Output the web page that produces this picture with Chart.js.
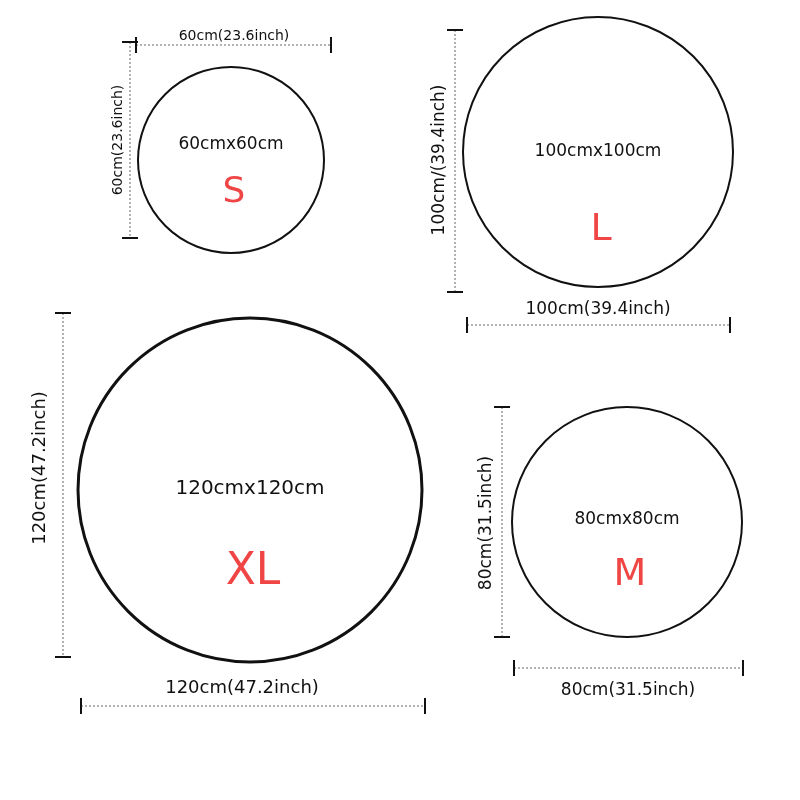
<!DOCTYPE html>
<html>
<head>
<meta charset="utf-8">
<script src="https://cdn.jsdelivr.net/npm/chart.js@4"></script>
<style>
  html, body { margin: 0; padding: 0; background: #fff; }
  #wrap { width: 800px; height: 800px; }
</style>
</head>
<body>
<div id="wrap"><canvas id="c" width="800" height="800"></canvas></div>
<script>
// circles (units = pixels of the 800x800 picture)
const sizeNames = ["S", "L", "XL", "M"];
const centerX = [231, 598, 250, 627];
const centerY = [160, 152, 490, 522];
const radii = [93, 135, 172, 115];
const circleWidths = [2, 2, 3, 2];

// inner labels
const areaLabels = ["60cmx60cm", "100cmx100cm", "120cmx120cm", "80cmx80cm"];
const areaLabelY = [145, 152, 489, 520];
const letterY = [193, 230, 573, 575];
const letterSize = [36, 38, 44, 38];

// dimension lines: [x1, y1, x2, y2]
const dimLines = [
  [136, 45, 331, 45],
  [130, 42, 130, 238],
  [455, 30, 455, 292],
  [467, 325, 730, 325],
  [63, 313, 63, 657],
  [81, 706, 425, 706],
  [502, 407, 502, 637],
  [514, 668, 743, 668],
];
const dimTexts = ["60cm(23.6inch)", "60cm(23.6inch)", "100cm/(39.4inch)", "100cm(39.4inch)",
  "120cm(47.2inch)", "120cm(47.2inch)", "80cm(31.5inch)", "80cm(31.5inch)"];
const dimTextX = [234, 118, 440, 598, 40, 242, 487, 628];
const dimTextY = [36, 140, 160, 310, 468, 688, 523, 691];
const dimTextSize = [14, 14, 17, 17, 18, 18, 17, 17];

// no auto padding for big bubbles / end ticks
class FlatBubble extends Chart.BubbleController { getMaxOverflow() { return 0; } }
FlatBubble.id = "flatbubble";
FlatBubble.defaults = Chart.BubbleController.defaults;
FlatBubble.overrides = Chart.BubbleController.overrides;
class FlatLine extends Chart.LineController { getMaxOverflow() { return 0; } }
FlatLine.id = "flatline";
FlatLine.defaults = Chart.LineController.defaults;
FlatLine.overrides = Chart.LineController.overrides;
Chart.register(FlatBubble, FlatLine);

const datasets = [{
  type: "flatbubble",
  data: sizeNames.map((n, i) => ({ x: centerX[i], y: centerY[i], r: radii[i] })),
  borderColor: "#111",
  backgroundColor: "rgba(0,0,0,0)",
  borderWidth: circleWidths,
  hoverRadius: 0,
}];

dimLines.forEach((l) => {
  const horiz = l[1] === l[3];
  datasets.push({
    type: "flatline",
    data: [{ x: l[0], y: l[1] }, { x: l[2], y: l[3] }],
    borderColor: "#999",
    borderWidth: 1.5,
    borderDash: [2, 2],
    pointStyle: "line",
    pointRadius: 8,
    pointBorderColor: "#111",
    pointBorderWidth: 2,
    pointRotation: horiz ? 90 : 0,
    clip: false,
  });
});
datasets[0].clip = false;

const textPlugin = {
  id: "texts",
  afterDatasetsDraw(chart) {
    const ctx = chart.ctx, sx = chart.scales.x, sy = chart.scales.y;
    ctx.save();
    ctx.textAlign = "center";
    ctx.textBaseline = "middle";
    sizeNames.forEach((n, i) => {
      ctx.fillStyle = "#111";
      ctx.font = (i === 2 ? 20 : 17) + "px 'DejaVu Sans'";
      ctx.fillText(areaLabels[i], sx.getPixelForValue(centerX[i]), sy.getPixelForValue(areaLabelY[i]));
      ctx.fillStyle = "#f04545";
      ctx.font = letterSize[i] + "px 'DejaVu Sans'";
      ctx.fillText(n, sx.getPixelForValue(centerX[i] + 3), sy.getPixelForValue(letterY[i]));
    });
    ctx.fillStyle = "#111";
    dimTexts.forEach((t, i) => {
      const l = dimLines[i];
      ctx.save();
      ctx.translate(sx.getPixelForValue(dimTextX[i]), sy.getPixelForValue(dimTextY[i]));
      if (l[0] === l[2]) ctx.rotate(-Math.PI / 2);
      ctx.font = dimTextSize[i] + "px 'DejaVu Sans'";
      ctx.fillText(t, 0, 0);
      ctx.restore();
    });
    ctx.restore();
  },
};

new Chart(document.getElementById("c"), {
  data: { datasets },
  options: {
    responsive: false,
    animation: false,
    events: [],
    layout: { padding: 0 },
    plugins: { legend: { display: false }, tooltip: { enabled: false } },
    scales: {
      x: { type: "linear", min: 0, max: 800, display: false },
      y: { type: "linear", min: 0, max: 800, reverse: true, display: false },
    },
  },
  plugins: [textPlugin],
});
</script>
</body>
</html>
